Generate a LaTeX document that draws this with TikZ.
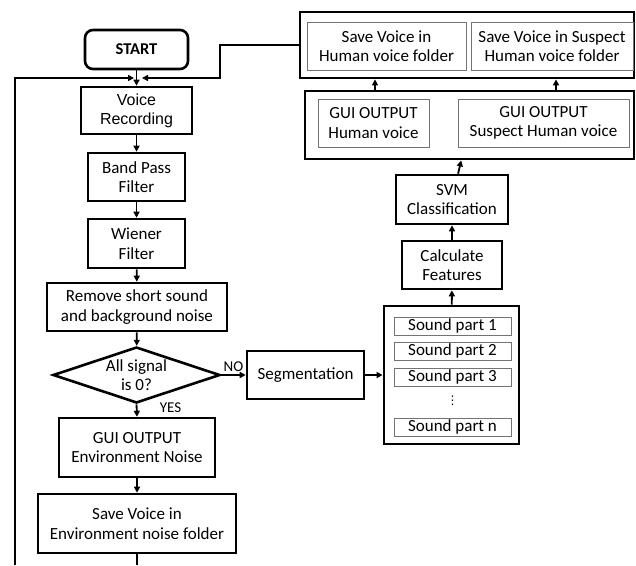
\documentclass[tikz,border=0pt]{standalone}
\usepackage{fontspec}
\setmainfont{Carlito}
\newfontfamily\arialfont{Liberation Sans}
\newfontfamily\symfont{DejaVu Sans}
\usetikzlibrary{arrows.meta, shapes.geometric}

\begin{document}
\begin{tikzpicture}[
    x=1pt, y=-1pt,
    every node/.style={font=\fontsize{17}{19.5}\selectfont, align=center},
    box/.style={rectangle, draw=black, line width=2.6pt, inner sep=0pt},
    inbox/.style={rectangle, draw=black!55, line width=0.9pt, inner sep=0pt},
    frame/.style={rectangle, draw=black, line width=2.8pt, inner sep=0pt},
    dia/.style={diamond, draw=black, line width=2.6pt, inner sep=0pt, aspect=3},
    arr/.style={-{Triangle[length=6pt, width=6pt]}, line width=1.8pt},
    ln/.style={line width=1.8pt},
    yn/.style={font=\fontsize{15}{17}\selectfont},
]
\useasboundingbox (0,0) rectangle (636,565);

% ================================================== left column
\node[box, rounded corners=8pt, minimum width=103pt, minimum height=39pt,
      font=\fontsize{16.5}{19}\selectfont\bfseries] (start) at (136.5, 49.5) {START};
\node[box, minimum width=111pt, minimum height=47pt,
      font=\arialfont\fontsize{16}{19}\selectfont] (rec) at (136.5, 110.5) {Voice\\Recording};
\node[box, minimum width=97pt, minimum height=48pt] (bpf) at (136.5, 177) {Band Pass\\Filter};
\node[box, minimum width=97pt, minimum height=49pt] (wien) at (136.5, 243.5) {Wiener\\Filter};
\node[box, minimum width=180pt, minimum height=48pt] (rem) at (137, 307)
     {Remove short sound\\and background noise};
\node[dia, minimum width=167pt, minimum height=56pt] (dec) at (136.5, 375) {All signal\\is 0?};
\node[box, minimum width=156pt, minimum height=59pt] (env) at (137, 447.5)
     {GUI OUTPUT\\Environment Noise};
\node[box, minimum width=198pt, minimum height=59pt] (saveenv) at (137, 523.5)
     {Save Voice in\\Environment noise folder};

% ================================================== segmentation and parts
\node[box, minimum width=117pt, minimum height=48pt] (seg) at (305.5, 375) {Segmentation};
\node[frame, minimum width=135pt, minimum height=138pt] (parts) at (451.5, 375) {};
\foreach \i/\y in {1/326, 2/351, 3/377, n/427}{
  \node[inbox, minimum width=117pt, minimum height=18pt] (part\i) at (452.5, \y) {Sound part \i};}
\node[font=\symfont\fontsize{12}{12}\selectfont] (pdots) at (452.5, 401) {⋮};

% ================================================== classification
\node[box, minimum width=100pt, minimum height=48pt] (calc) at (452, 265) {Calculate\\Features};
\node[box, minimum width=112pt, minimum height=49pt] (svm) at (452, 199.5) {SVM\\Classification};

% ================================================== outputs, top right
\node[frame, minimum width=329pt, minimum height=68pt] (guiout) at (469.5, 125) {};
\node[inbox, minimum width=111pt, minimum height=48pt] (guih) at (373.5, 123) {GUI OUTPUT\\Human voice};
\node[inbox, minimum width=171pt, minimum height=48pt] (guis) at (543.5, 123) {GUI OUTPUT\\Suspect Human voice};
\node[frame, minimum width=334pt, minimum height=66pt] (saveout) at (467, 45) {};
\node[inbox, minimum width=159pt, minimum height=48pt] (saveh) at (386.5, 46) {Save Voice in\\Human voice folder};
\node[inbox, minimum width=162pt, minimum height=48pt] (saves) at (552, 46) {Save Voice in Suspect\\Human voice folder};

% ================================================== connectors
\draw[arr] (start) -- (rec);
\draw[arr] (rec) -- (bpf);
\draw[arr] (bpf) -- (wien);
\draw[arr] (wien) -- (rem);
\draw[arr] (rem) -- (dec);
\draw[arr] (dec.east) -- (seg.west) node[yn, pos=0.5, above=-1pt] {NO};
\draw[arr] (dec.south) -- (env.north) node[yn, pos=0.3, right=19pt] {YES};
\draw[arr] (env) -- (saveenv);
\draw[arr] (seg) -- (parts);
\draw[arr] (parts) -- (calc);
\draw[arr] (calc) -- (svm);
\draw[arr] (svm) -- (guiout);
\draw[arr] (guiout.north -| 375,0) -- (saveout.south -| 375,0);
\draw[arr] (guiout.north -| 556,0) -- (saveout.south -| 556,0);

% the two loops back to the recording
\coordinate (lbot) at (15, 565);
\coordinate (jleft) at (134, 78);
\coordinate (jright) at (142, 78);
\coordinate (bend) at (220, 45);
\draw[arr] (lbot) |- (jleft);
\draw[arr] (saveout.west) -- (bend) |- (jright);
\draw[ln] (saveenv.south) -- (saveenv.south |- lbot);

\end{tikzpicture}
\end{document}
